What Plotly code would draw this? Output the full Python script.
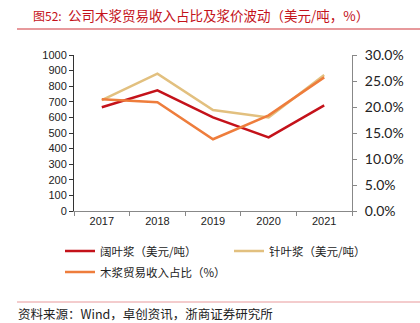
import plotly.graph_objects as go

years = ["2017", "2018", "2019", "2020", "2021"]
hardwood = [665, 774, 600, 472, 677]        # 阔叶浆 美元/吨
softwood = [711, 880, 647, 600, 872]        # 针叶浆 美元/吨
pulp_share = [21.5, 20.9, 13.8, 18.4, 25.7] # 木浆贸易收入占比 %

left_ticks = list(range(0, 1001, 100))
right_ticks = [0, 5, 10, 15, 20, 25, 30]

RED = "#C4121A"
TAN = "#E2C07F"
ORANGE = "#EE7D3C"
CJK = "Noto Sans CJK SC"

# plot area in pixels: x 74..352, y 55..211
PW, PH = 278, 156


def px_x(x):
    return (x - 74) / PW


def px_y(y):
    return (211 - y) / PH


fig = go.Figure()
fig.add_trace(go.Scatter(x=years, y=hardwood, mode="lines", name="阔叶浆（美元/吨）",
                         line=dict(color=RED, width=2.5), legend="legend"))
fig.add_trace(go.Scatter(x=years, y=softwood, mode="lines", name="针叶浆（美元/吨）",
                         line=dict(color=TAN, width=2.5), legend="legend"))
fig.add_trace(go.Scatter(x=years, y=pulp_share, mode="lines", name="木浆贸易收入占比（%）",
                         line=dict(color=ORANGE, width=2.5), yaxis="y2", legend="legend2"))

legend_common = dict(orientation="h", xanchor="left", yanchor="top",
                     font=dict(family=CJK, size=11.5, color="#222"),
                     entrywidth=124, entrywidthmode="pixels", itemwidth=30,
                     bgcolor="rgba(0,0,0,0)")

fig.update_layout(
    width=420, height=323,
    margin=dict(l=74, r=68, t=55, b=112),
    paper_bgcolor="white", plot_bgcolor="white",
    showlegend=True,
    legend=dict(x=px_x(60), y=px_y(236.5), **legend_common),
    legend2=dict(x=px_x(60), y=px_y(257.5), **legend_common),
    xaxis=dict(type="category", showgrid=False, showline=True, linecolor="#888",
               linewidth=1, ticks="outside", ticklen=4, tickcolor="#888",
               tickson="boundaries", range=[-0.5, 4.5],
               tickfont=dict(family="Liberation Sans, Arial", size=11, color="#222")),
    yaxis=dict(range=[0, 1000], tickvals=left_ticks, showgrid=False, showline=True,
               linecolor="#333", linewidth=1, ticks="outside", ticklen=4, tickcolor="#333",
               zeroline=False,
               tickfont=dict(family="Liberation Sans, Arial", size=11, color="#222")),
    yaxis2=dict(range=[0, 30], tickvals=right_ticks,
                ticktext=[f"{v:.1f}%" for v in right_ticks],
                overlaying="y", side="right", showgrid=False, showline=True,
                linecolor="#888", linewidth=1, ticks="outside", ticklen=4, tickcolor="#888",
                zeroline=False, ticklabelstandoff=5,
                tickfont=dict(family="Lato", size=14, color="#222")),
    annotations=[
        dict(text="图52:", xref="paper", yref="paper", x=px_x(31), y=px_y(15),
             xanchor="left", yanchor="middle", showarrow=False,
             font=dict(family=CJK, size=12, color="#C4121A")),
        dict(text="公司木浆贸易收入占比及浆价波动（美元/吨，%）",
             xref="paper", yref="paper", x=px_x(66), y=px_y(15), xanchor="left",
             yanchor="middle", showarrow=False,
             font=dict(family=CJK, size=13.5, color="#C4121A")),
        dict(text="资料来源：Wind，卓创资讯，浙商证券研究所",
             xref="paper", yref="paper", x=px_x(16), y=px_y(313.5), xanchor="left",
             yanchor="middle", showarrow=False,
             font=dict(family=CJK, size=12.5, color="#222")),
    ],
    shapes=[
        dict(type="line", xref="paper", yref="paper", x0=px_x(17), x1=px_x(420),
             y0=px_y(29), y1=px_y(29), line=dict(color="#D0343A", width=1.2)),
        dict(type="line", xref="paper", yref="paper", x0=px_x(17), x1=px_x(420),
             y0=px_y(302), y1=px_y(302), line=dict(color="#E8999B", width=1)),
    ],
)

fig.write_html("out.html")
